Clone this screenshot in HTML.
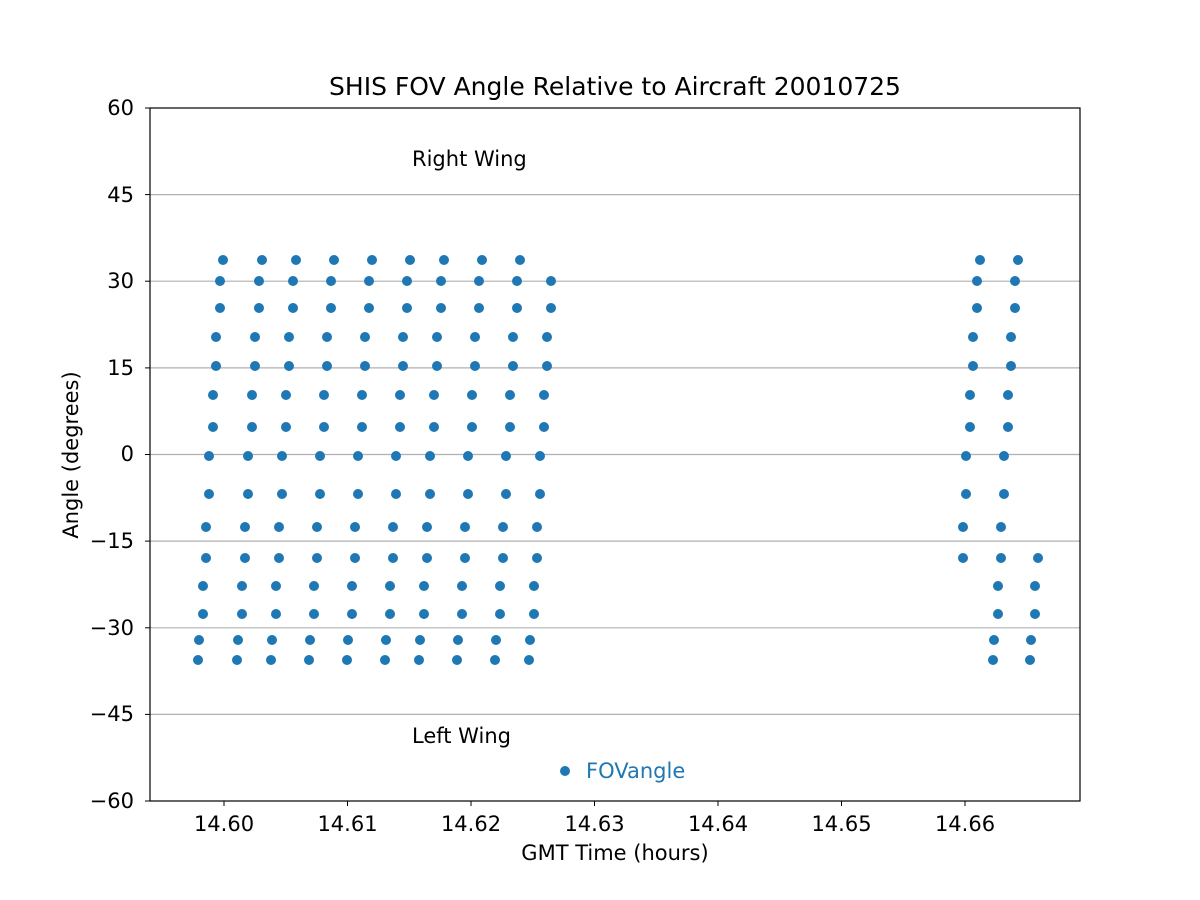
<!DOCTYPE html>
<html><head><meta charset="utf-8"><style>body{margin:0;background:#fff}svg{display:block}text{font-family:"DejaVu Sans","Liberation Sans",sans-serif}</style></head>
<body>
<svg id="s" width="1200" height="900" xmlns="http://www.w3.org/2000/svg">
<rect width="1200" height="900" fill="#fff"/>
<g stroke="#b0b0b0" stroke-width="1.2">
<line x1="150" x2="1080" y1="194.6" y2="194.6"/>
<line x1="150" x2="1080" y1="281.2" y2="281.2"/>
<line x1="150" x2="1080" y1="367.9" y2="367.9"/>
<line x1="150" x2="1080" y1="454.5" y2="454.5"/>
<line x1="150" x2="1080" y1="541.1" y2="541.1"/>
<line x1="150" x2="1080" y1="627.8" y2="627.8"/>
<line x1="150" x2="1080" y1="714.4" y2="714.4"/>
</g>
<g id="dots" fill="#1f77b4"></g>
<rect x="150" y="108" width="930" height="693" fill="none" stroke="#000" stroke-width="1.2"/>
<g stroke="#000" stroke-width="1">
<line x1="145" x2="150" y1="108" y2="108"/><line x1="145" x2="150" y1="194.6" y2="194.6"/><line x1="145" x2="150" y1="281.2" y2="281.2"/><line x1="145" x2="150" y1="367.9" y2="367.9"/><line x1="145" x2="150" y1="454.5" y2="454.5"/><line x1="145" x2="150" y1="541.1" y2="541.1"/><line x1="145" x2="150" y1="627.8" y2="627.8"/><line x1="145" x2="150" y1="714.4" y2="714.4"/><line x1="145" x2="150" y1="801" y2="801"/>
<line x1="224" x2="224" y1="801" y2="806"/><line x1="347.5" x2="347.5" y1="801" y2="806"/><line x1="471" x2="471" y1="801" y2="806"/><line x1="594.5" x2="594.5" y1="801" y2="806"/><line x1="718" x2="718" y1="801" y2="806"/><line x1="841.5" x2="841.5" y1="801" y2="806"/><line x1="965" x2="965" y1="801" y2="806"/>
</g>
<g font-size="21" text-anchor="end">
<text x="134" y="115">60</text><text x="134" y="202">45</text><text x="134" y="288">30</text><text x="134" y="375">15</text><text x="134" y="461">0</text><text x="134" y="548">−15</text><text x="134" y="635">−30</text><text x="134" y="721">−45</text><text x="134" y="808">−60</text>
</g>
<g font-size="21" text-anchor="middle">
<text x="224" y="831">14.60</text><text x="347.5" y="831">14.61</text><text x="471" y="831">14.62</text><text x="594.5" y="831">14.63</text><text x="718" y="831">14.64</text><text x="841.5" y="831">14.65</text><text x="965" y="831">14.66</text>
<text x="615" y="860">GMT Time (hours)</text>
<text x="615" y="95" font-size="25">SHIS FOV Angle Relative to Aircraft 20010725</text>
<text transform="translate(78,455) rotate(-90)">Angle (degrees)</text>
</g>
<text x="412" y="166" font-size="21">Right Wing</text>
<text x="412" y="743" font-size="21">Left Wing</text>
<circle cx="565" cy="771" r="5" fill="#1f77b4"/>
<text x="586" y="778" font-size="21" fill="#1f77b4">FOVangle</text>
</svg>
<script>
var rows=[[660,0],[640,1],[614,5],[586,5],[558,8],[527,8],[494,11],[456,11],[427,15],[395,15],[366,18],[337,18],[308,22],[281,22],[260,25]];
var sweeps=[[198,0,15],[237,0,15],[271,0,15],[309,0,15],[347,0,15],[385,0,15],[419,0,15],[457,0,15],[495,0,15],[529,0,14],[955,4,15],[993,0,15],[1030,0,5]];
var g=document.getElementById('dots'),h='';
sweeps.forEach(function(s){for(var i=s[1];i<s[2];i++){h+='<circle cx="'+(s[0]+rows[i][1])+'" cy="'+rows[i][0]+'" r="5"/>';}});
g.innerHTML=h;
</script>
</body></html>
